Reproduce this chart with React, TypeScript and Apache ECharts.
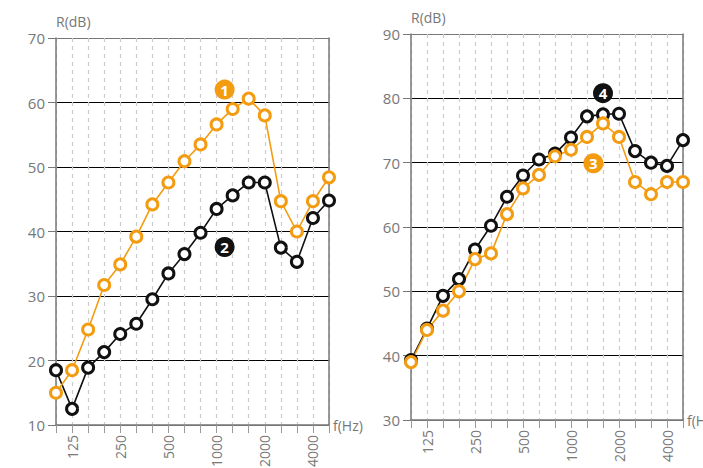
import React, { useEffect, useRef } from "react";
import * as echarts from "echarts";

const freqs = ["100", "125", "160", "200", "250", "315", "400", "500", "630", "800", "1000", "1250", "1600", "2000", "2500", "3150", "4000", "5000"];
const tickLabels = ["125", "250", "500", "1000", "2000", "4000"];

const curve1 = [15.0, 18.5, 24.8, 31.7, 34.9, 39.2, 44.2, 47.6, 50.9, 53.5, 56.6, 59.0, 60.6, 58.0, 44.7, 40.0, 44.7, 48.4];
const curve2 = [18.5, 12.5, 18.9, 21.3, 24.1, 25.7, 29.5, 33.5, 36.5, 39.8, 43.5, 45.6, 47.6, 47.6, 37.5, 35.3, 42.1, 44.8];
const curve3 = [39.0, 44.0, 47.0, 50.0, 55.0, 55.9, 62.0, 66.0, 68.1, 71.0, 72.0, 74.0, 76.1, 74.0, 67.0, 65.1, 67.0, 67.0];
const curve4 = [39.3, 44.2, 49.3, 51.9, 56.5, 60.2, 64.7, 68.0, 70.5, 71.4, 73.9, 77.2, 77.5, 77.6, 71.8, 70.0, 69.5, 73.5];

const badge1 = [10.5, 62.0];
const badge2 = [10.5, 37.6];
const badge3 = [11.4, 69.9];
const badge4 = [12.0, 80.8];

const leftY = { min: 10, max: 70, interval: 10 };
const rightY = { min: 30, max: 90, interval: 10 };

const ORANGE = "#F39C12";
const BLACK = "#111111";
const GRAY = "#777777";
const FONT = "Open Sans";

export default function App() {
  const ref = useRef<HTMLDivElement>(null);
  useEffect(() => {
    if (!ref.current) return;
    const chart = echarts.init(ref.current, null, { renderer: "svg" });

    const xAxisFor = (gridIndex: number) => ({
      type: "value",
      gridIndex,
      min: 0,
      max: freqs.length - 1,
      interval: 1,
      name: "f(Hz)",
      nameLocation: "end",
      nameGap: 4,
      nameTextStyle: { color: GRAY, fontSize: 14, fontFamily: FONT },
      axisLine: { show: true, onZero: false, lineStyle: { color: GRAY, width: 1.5 } },
      axisTick: { show: true, length: 8, lineStyle: { color: "#999", width: 1 } },
      axisLabel: {
        rotate: 90,
        margin: 10,
        color: GRAY,
        fontSize: 14,
        fontFamily: FONT,
        formatter: (v: number) => {
          const f = freqs[Math.round(v)];
          return tickLabels.indexOf(f) >= 0 ? f : "";
        },
      },
      splitLine: { show: true, lineStyle: { color: "#cccccc", type: [4, 4], width: 1.2 } },
    });

    const yAxisFor = (gridIndex: number, r: { min: number; max: number; interval: number }) => ({
      type: "value",
      gridIndex,
      min: r.min,
      max: r.max,
      interval: r.interval,
      name: "R(dB)",
      nameLocation: "end",
      nameGap: 10,
      nameTextStyle: { color: GRAY, fontSize: 14, fontFamily: FONT, align: "left" },
      axisLine: { show: true, lineStyle: { color: GRAY, width: 1.5 } },
      axisTick: { show: true, length: 8, lineStyle: { color: GRAY } },
      axisLabel: { color: GRAY, fontSize: 15, fontFamily: FONT, margin: 11 },
      splitLine: {
        show: true,
        lineStyle: { color: [GRAY, "#000", "#000", "#000", "#000", "#000", GRAY], width: 1 },
      },
    });

    const borderAxis = (gridIndex: number, r: { min: number; max: number }) => ({
      type: "value",
      gridIndex,
      position: "right",
      min: r.min,
      max: r.max,
      axisLine: { show: true, lineStyle: { color: GRAY, width: 1.5 } },
      axisTick: { show: false },
      axisLabel: { show: false },
      splitLine: { show: false },
    });

    const lineSeries = (data: number[], color: string, xi: number, yi: number) => ({
      type: "line",
      xAxisIndex: xi,
      yAxisIndex: yi,
      data: data.map((v, i) => [i, v]),
      symbol: "circle",
      symbolSize: 11,
      lineStyle: { color, width: 1.6 },
      itemStyle: { color: "#ffffff", borderColor: color, borderWidth: 3 },
      z: 3,
    });

    const badge = (pt: number[], text: string, color: string, xi: number, yi: number) => ({
      type: "scatter",
      xAxisIndex: xi,
      yAxisIndex: yi,
      data: [pt],
      symbol: "circle",
      symbolSize: 20,
      itemStyle: { color, opacity: 1 },
      label: {
        show: true,
        position: "inside",
        formatter: text,
        color: "#ffffff",
        fontWeight: "bold",
        fontSize: 15,
        fontFamily: FONT,
      },
      z: 5,
    });

    chart.setOption({
      animation: false,
      backgroundColor: "#ffffff",
      grid: [
        { left: 56, right: 374, top: 38, bottom: 43, outerBoundsMode: "none" },
        { left: 411, right: 20, top: 34, bottom: 48, outerBoundsMode: "none" },
      ],
      xAxis: [xAxisFor(0), xAxisFor(1)],
      yAxis: [yAxisFor(0, leftY), borderAxis(0, leftY), yAxisFor(1, rightY), borderAxis(1, rightY)],
      series: [
        lineSeries(curve2, BLACK, 0, 0),
        lineSeries(curve1, ORANGE, 0, 0),
        badge(badge1, "1", ORANGE, 0, 0),
        badge(badge2, "2", BLACK, 0, 0),
        lineSeries(curve4, BLACK, 1, 2),
        lineSeries(curve3, ORANGE, 1, 2),
        badge(badge3, "3", ORANGE, 1, 2),
        badge(badge4, "4", BLACK, 1, 2),
      ],
    });
    return () => chart.dispose();
  }, []);
  return <div ref={ref} style={{ position: "fixed", left: 0, top: 0, width: 703, height: 468 }} />;
}
